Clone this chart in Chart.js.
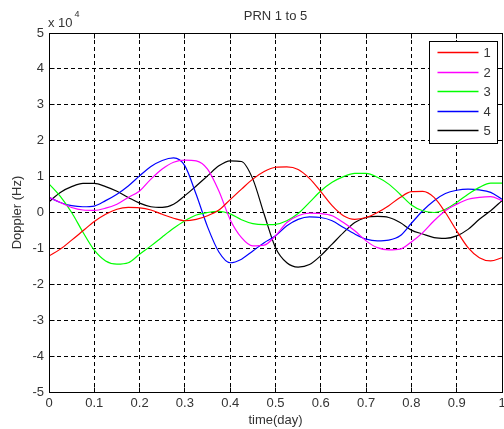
<!DOCTYPE html>
<html>
<head>
<meta charset="utf-8">
<script src="https://cdn.jsdelivr.net/npm/chart.js@4.4.1/dist/chart.umd.min.js"></script>
<style>
  html, body { margin: 0; padding: 0; background: #fff; }
  canvas { display: block; }
</style>
</head>
<body>
<canvas id="dopplerChart" width="504" height="429"></canvas>
<script>
// sample times (day)
const timeDay = [0, 0.025, 0.05, 0.075, 0.1, 0.125, 0.15, 0.175, 0.2, 0.225,
  0.25, 0.275, 0.3, 0.325, 0.35, 0.375, 0.4, 0.425, 0.45, 0.475,
  0.5, 0.525, 0.55, 0.575, 0.6, 0.625, 0.65, 0.675, 0.7, 0.725,
  0.75, 0.775, 0.8, 0.825, 0.85, 0.875, 0.9, 0.925, 0.95, 0.975, 1];

// doppler per satellite (Hz)
const prn1 = [-12100, -10200, -7700, -5100, -2500, -500, 900, 1400, 1300, 700,
  -500, -1600, -2300, -1900, -900, 700, 3600, 6500, 9300, 11400,
  12600, 12700, 12000, 9500, 5800, 1900, -900, -1900, -1400, 0,
  1900, 4200, 5800, 5900, 4200, 0, -5100, -9800, -12600, -13500, -12600];
const prn2 = [4200, 2800, 1400, 700, 600, 1200, 2300, 4200, 6000, 9300,
  12100, 14000, 14600, 14400, 12100, 6000, -2000, -7000, -9300, -9100,
  -6500, -2800, -900, -200, -300, -900, -2800, -5100, -7900, -9800,
  -10400, -10200, -8200, -5600, -2300, 500, 2300, 3700, 4200, 4400, 3300];
const prn3 = [8000, 4500, 0, -5500, -10500, -13500, -14400, -14000, -11600, -9300,
  -6800, -4400, -2300, -700, 0, 300, -400, -2000, -3100, -3400,
  -3300, -2300, -300, 2800, 6000, 8400, 10000, 10900, 10900, 9800,
  7900, 5100, 2100, 500, 0, 900, 2800, 5100, 7000, 8200, 8200];
const prn4 = [4200, 2800, 1900, 1600, 1800, 3300, 5100, 7400, 10200, 12800,
  14500, 15200, 13000, 5000, -4000, -11000, -14000, -13000, -10700, -8400,
  -6500, -3700, -1900, -1200, -1400, -2300, -4200, -6000, -7400, -7900,
  -7700, -6500, -3000, 500, 3300, 5300, 6200, 6500, 6300, 5600, 3700];
const prn5 = [3000, 5600, 7200, 8100, 8100, 7200, 5900, 4200, 2600, 1600,
  1400, 2300, 4700, 7400, 10200, 13000, 14400, 14200, 9300, -500,
  -9800, -14000, -15200, -14500, -12000, -8800, -5600, -2800, -1400, -1100,
  -1400, -2800, -4900, -6000, -7000, -7200, -6500, -4700, -1900, 500, 3300];

const prnNames = ['1', '2', '3', '4', '5'];
const prnColors = ['#ff0000', '#ff00ff', '#00ff00', '#0000ff', '#000000'];
const prnSeries = [prn1, prn2, prn3, prn4, prn5];

const textColor = '#333333';
const fontFamily = '"Liberation Sans", Arial, Helvetica, sans-serif';
const fontSize = 13;

function snap(p) {
  return Math.round(p - 0.5) + 0.5;
}

// solid box, inward ticks, x10^4 exponent and the legend
const matlabAxes = {
  id: 'matlabAxes',
  afterDraw(chart) {
    const { ctx, chartArea: a, scales: { x, y } } = chart;
    const L = snap(a.left), R = snap(a.right), T = snap(a.top), B = snap(a.bottom);
    ctx.save();
    ctx.setLineDash([]);
    ctx.strokeStyle = '#000';
    ctx.lineWidth = 1;

    ctx.beginPath();
    x.ticks.forEach(t => {
      const px = snap(x.getPixelForValue(t.value));
      ctx.moveTo(px, B); ctx.lineTo(px, B - 5);
      ctx.moveTo(px, T); ctx.lineTo(px, T + 5);
    });
    y.ticks.forEach(t => {
      const py = snap(y.getPixelForValue(t.value));
      ctx.moveTo(L, py); ctx.lineTo(L + 5, py);
      ctx.moveTo(R, py); ctx.lineTo(R - 5, py);
    });
    ctx.stroke();
    ctx.strokeRect(L, T, R - L, B - T);

    // exponent of the y axis
    ctx.fillStyle = textColor;
    ctx.textBaseline = 'middle';
    ctx.textAlign = 'left';
    ctx.font = `${fontSize}px ${fontFamily}`;
    ctx.fillText('x 10', a.left - 1, a.top - 10);
    const w = ctx.measureText('x 10').width;
    ctx.font = `9px ${fontFamily}`;
    ctx.fillText('4', a.left - 1 + w + 2, a.top - 18);

    // legend box
    const boxW = 68, boxH = 102;
    const bx = snap(a.right - 5 - boxW), by = snap(a.top + 8);
    ctx.fillStyle = '#fff';
    ctx.fillRect(bx, by, boxW, boxH);
    ctx.strokeRect(bx, by, boxW, boxH);
    ctx.font = `${fontSize}px ${fontFamily}`;
    chart.data.datasets.forEach((ds, i) => {
      const ry = snap(by + 11 + i * 19.6);
      ctx.strokeStyle = ds.borderColor;
      ctx.lineWidth = 1.4;
      ctx.beginPath();
      ctx.moveTo(bx + 8, ry);
      ctx.lineTo(bx + 49, ry);
      ctx.stroke();
      ctx.fillStyle = textColor;
      ctx.fillText(ds.label, bx + 54, ry + 1);
    });
    ctx.restore();
  }
};

new Chart(document.getElementById('dopplerChart'), {
  type: 'line',
  data: {
    datasets: prnSeries.map((vals, i) => ({
      label: prnNames[i],
      borderColor: prnColors[i],
      backgroundColor: prnColors[i],
      borderWidth: 1.2,
      pointRadius: 0,
      fill: false,
      cubicInterpolationMode: 'monotone',
      data: vals.map((v, k) => ({ x: timeDay[k], y: v }))
    }))
  },
  options: {
    responsive: false,
    animation: false,
    layout: { padding: { left: 0, right: 2, top: 0, bottom: 0 } },
    plugins: {
      legend: { display: false },
      tooltip: { enabled: false },
      title: {
        display: true,
        text: 'PRN 1 to 5',
        fullSize: false,
        color: textColor,
        font: { family: fontFamily, size: fontSize, weight: 'normal' },
        padding: { top: 9, bottom: 8.4 }
      }
    },
    scales: {
      x: {
        type: 'linear',
        min: 0,
        max: 1,
        ticks: {
          stepSize: 0.1,
          autoSkip: false,
          maxRotation: 0,
          padding: 4,
          color: textColor,
          font: { family: fontFamily, size: fontSize },
          callback: v => String(+v.toFixed(1))
        },
        grid: { color: '#000', lineWidth: 1, drawTicks: false },
        border: { display: true, color: '#000', dash: [4, 3] },
        title: {
          display: true,
          text: 'time(day)',
          color: textColor,
          font: { family: fontFamily, size: fontSize },
          padding: { top: 0, bottom: 1 }
        },
        afterFit(s) { s.height = 37; s.paddingLeft = 0; s.paddingRight = 0; }
      },
      y: {
        min: -50000,
        max: 50000,
        ticks: {
          stepSize: 10000,
          autoSkip: false,
          padding: 5,
          color: textColor,
          font: { family: fontFamily, size: fontSize },
          callback: v => String(Math.round(v / 10000))
        },
        grid: { color: '#000', lineWidth: 1, drawTicks: false },
        border: { display: true, color: '#000', dash: [4, 3] },
        title: {
          display: true,
          text: 'Doppler (Hz)',
          color: textColor,
          font: { family: fontFamily, size: fontSize },
          padding: { top: 10, bottom: 0 }
        },
        afterFit(s) { s.width = 49; s.paddingTop = 0; s.paddingBottom = 0; }
      }
    }
  },
  plugins: [matlabAxes]
});
</script>
</body>
</html>
